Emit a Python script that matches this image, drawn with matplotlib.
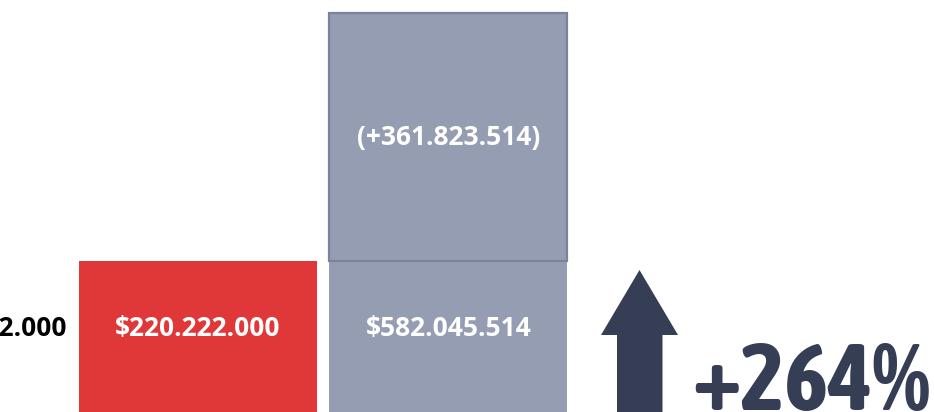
import matplotlib.pyplot as plt
from matplotlib.patches import Polygon
from matplotlib import font_manager as fm

# ---- data ----
before_value = 220222000
after_value = 582045514
increase_value = after_value - before_value  # 361.823.514
bar_labels = ['$220.222.000', '$582.045.514']
increase_label = '(+361.823.514)'
side_label = '$220.222.000'
change_label = '+264%'

# ---- colours ----
red = '#E03838'
grey = '#959DB2'
edge = '#7A8399'
navy = '#363E56'

# find a narrow font for the big percentage
narrow = None
for f in fm.fontManager.ttflist:
    if ('Narrow' in f.name or 'Condensed' in f.name) and f.weight in (700, 'bold'):
        narrow = (f.name, 'normal')
        break
if narrow is None:
    for f in fm.fontManager.ttflist:
        if f.stretch in ('condensed', 'semi-condensed', 'extra-condensed', 600, 300, 400) and 'Bold' in f.fname:
            narrow = (f.name, f.stretch)
            break
if narrow is None:
    narrow = ('DejaVu Sans', 'condensed')

W, H, DPI = 9.34, 4.12, 100
fig = plt.figure(figsize=(W, H), dpi=DPI)
ax = fig.add_axes([0, 0, 1, 1])
ax.set_xlim(-0.790, 2.938)
ax.set_ylim(0, after_value * 412 / 399)
ax.axis('off')

bw = 0.95
ax.bar([0], [before_value], width=bw, color=red, linewidth=0)
ax.bar([1], [before_value], width=bw, color=grey, linewidth=0)
ax.bar([1], [increase_value], bottom=[before_value], width=bw, color=grey,
       edgecolor=edge, linewidth=1.6)

lab_font = dict(family='Open Sans', weight='bold', fontsize=19)
ly = before_value * 0.555
ax.text(0, ly, bar_labels[0], color='white', ha='center', va='center', **lab_font)
ax.text(1, ly, bar_labels[1], color='white', ha='center', va='center', **lab_font)
ax.text(1, before_value + increase_value / 2, increase_label, color='white',
        ha='center', va='center', **lab_font)
ax.annotate(side_label, xy=(-bw / 2, ly), xytext=(-8.6, 0), textcoords='offset points',
            ha='right', va='center', color='black', **lab_font)

# ---- arrow (decoration, in pixel-fraction coords) ----
def P(px, py):
    return (px / 934, 1 - py / 412)

arrow = Polygon([P(617, 420), P(617, 335), P(601, 335), P(639.5, 270),
                 P(678, 335), P(662.5, 335), P(662.5, 420)],
                closed=True, transform=ax.transAxes, color=navy, lw=0, clip_on=False)
ax.add_patch(arrow)

t = fig.text(692 / 934, 1 - 410 / 412, change_label, family=narrow[0], fontstretch=narrow[1],
             weight='bold', fontsize=72, color=navy, ha='left', va='baseline')
fig.canvas.draw()
wpx = t.get_window_extent().width
t.set_fontsize(72 * 238 / wpx)

fig.savefig('out.png', dpi=DPI)
